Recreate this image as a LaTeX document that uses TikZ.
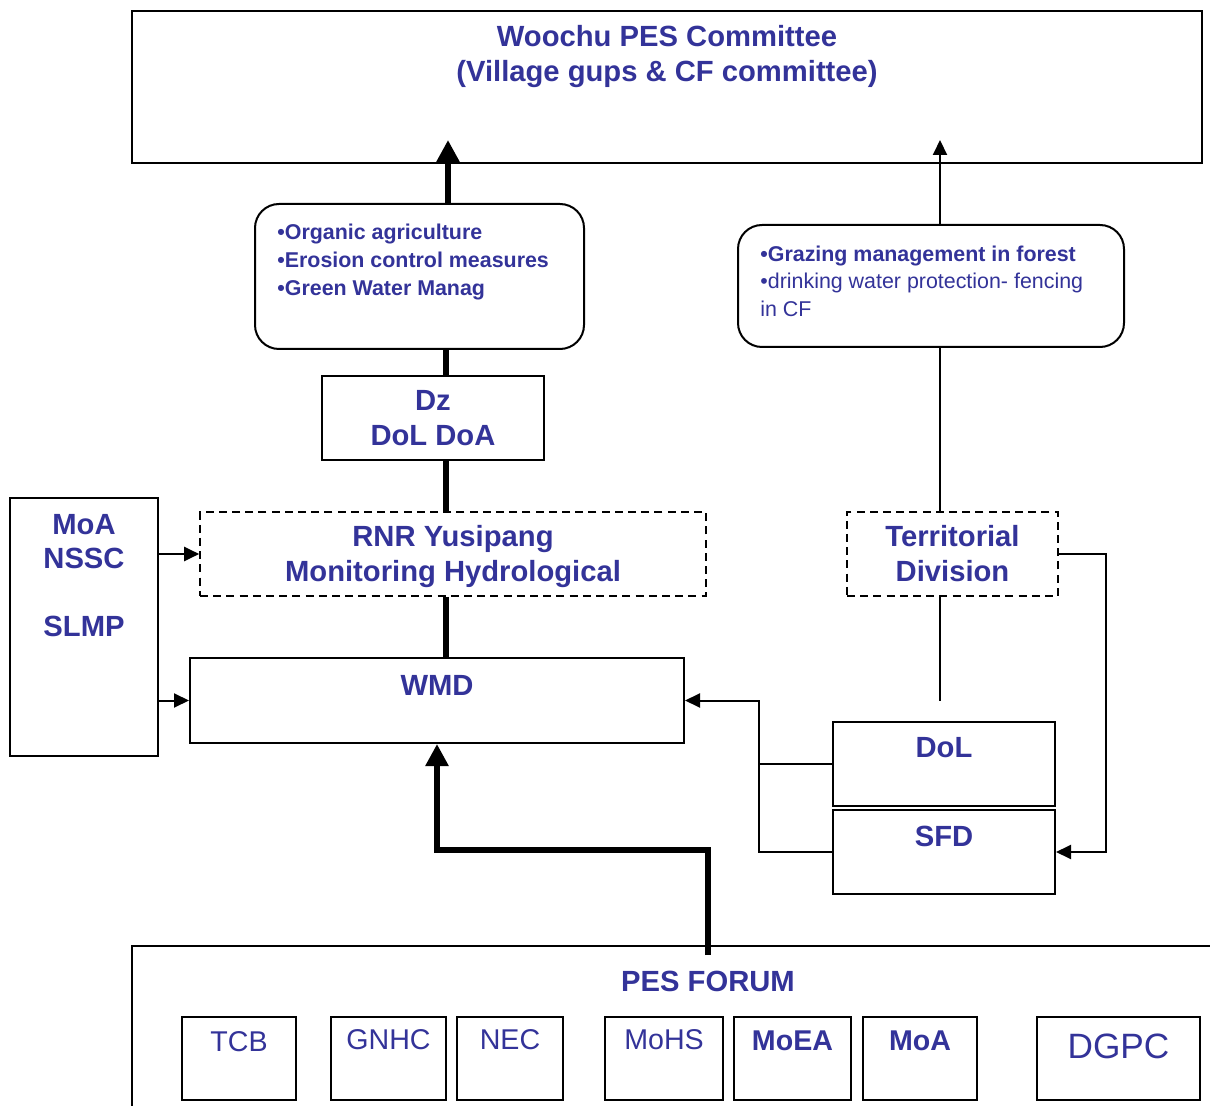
\documentclass[tikz,border=0pt]{standalone}
\usepackage{fontspec}
\setmainfont{Liberation Sans}
\usepackage{tikz}
\usetikzlibrary{calc}
\usetikzlibrary{arrows.meta}
\usepackage{xcolor}
\definecolor{azul}{HTML}{333399}
\tikzset{
	caja/.style={draw,line width=1pt,inner sep=0pt},
	cajaredonda/.style={caja,rounded corners=12pt},
	cajapunteada/.style={draw,line width=0.8pt,dash pattern=on 4pt off 2.6pt,inner sep=0pt},
	titulo/.style={text=azul,font=\fontsize{14.6}{17.5}\selectfont\bfseries,align=center,inner sep=0pt},
	lista/.style={text=azul,font=\fontsize{10.7}{13.8}\selectfont,align=left,inner sep=0pt},
	sigla/.style={text=azul,font=\fontsize{14.3}{17}\selectfont,inner sep=0pt},
	flechagruesa/.style={line width=3pt,-{Triangle[length=11pt,width=11pt]}},
	lineagruesa/.style={line width=3pt},
	flecha/.style={line width=1pt,-{Triangle[length=7.5pt,width=7pt]}},
	linea/.style={line width=1pt}
}
\begin{document}
\begin{tikzpicture}[x=0.5pt,y=-0.5pt]
			\clip (0,0) rectangle (1210,1106);
			\fill[white] (0,0) rectangle (1210,1106);
			%comite
			\node[caja,minimum width=535pt,minimum height=76pt] (comite) at (667,87) {};
			\node[titulo] (comite-t) at (667,57) {Woochu PES Committee\\(Village gups \& CF committee)};
			%actividades
			\node[cajaredonda,minimum width=164.5pt,minimum height=72.5pt] (agri) at (419.5,276.5) {};
			\node[lista,anchor=west] (agri-t) at (277,262) {\textbf{•Organic agriculture}\\\textbf{•Erosion control measures}\\\textbf{•Green Water Manag}};
			\node[cajaredonda,minimum width=193pt,minimum height=61pt] (pastoreo) at (931,286) {};
			\node[lista,anchor=west] (pastoreo-t) at (760,281) {\textbf{•Grazing management in forest}\\•drinking water protection- fencing\\in CF};
			%instituciones
			\node[caja,minimum width=111pt,minimum height=42pt,titulo] (dz) at (433,418) {Dz\\DoL DoA};
			\node[cajapunteada,minimum width=253pt,minimum height=42pt] (rnr) at (453,554) {};
			\node[titulo] (rnr-t) at (453,557) {RNR Yusipang\\Monitoring Hydrological};
			\node[cajapunteada,minimum width=105.5pt,minimum height=42pt,titulo] (terr) at (952.5,554) {Territorial\\Division};
			\node[caja,minimum width=247pt,minimum height=42.5pt] (wmd) at (437,700.5) {};
			\node[titulo] (wmd-t) at (437,685) {WMD};
			\node[caja,minimum width=74pt,minimum height=129pt] (moa) at (84,627) {};
			\node[titulo,font=\fontsize{14.6}{17}\selectfont\bfseries] (moa-t) at (84,576) {MoA\\NSSC\\ \\SLMP};
			\node[caja,minimum width=111pt,minimum height=42pt] (dol) at (944,764) {};
			\node[titulo] (dol-t) at (944,748) {DoL};
			\node[caja,minimum width=111pt,minimum height=42pt] (sfd) at (944,852) {};
			\node[titulo] (sfd-t) at (944,836) {SFD};
			%foro
			\node[caja,minimum width=549pt,minimum height=92pt] (foro) at (681,1038) {};
			\node[titulo] (foro-t) at (708,981) {PES FORUM};
			\node[caja,minimum width=57pt,minimum height=41.5pt] (tcb) at (239,1058.5) {};
			\node[sigla] (tcb-t) at (239,1042) {TCB};
			\node[caja,minimum width=57.5pt,minimum height=41.5pt] (gnhc) at (388.5,1058.5) {};
			\node[sigla] (gnhc-t) at (388.5,1040) {GNHC};
			\node[caja,minimum width=53pt,minimum height=41.5pt] (nec) at (510,1058.5) {};
			\node[sigla] (nec-t) at (510,1040) {NEC};
			\node[caja,minimum width=59pt,minimum height=41.5pt] (mohs) at (664,1058.5) {};
			\node[sigla] (mohs-t) at (664,1040) {MoHS};
			\node[caja,minimum width=58.5pt,minimum height=41.5pt] (moea) at (792.5,1058.5) {};
			\node[sigla,font=\fontsize{14.3}{17}\selectfont\bfseries] (moea-t) at (792.5,1041) {MoEA};
			\node[caja,minimum width=57pt,minimum height=41.5pt] (moa2) at (920,1058.5) {};
			\node[sigla,font=\fontsize{14.3}{17}\selectfont\bfseries] (moa2-t) at (920,1041) {MoA};
			\node[caja,minimum width=81.5pt,minimum height=41.5pt] (dgpc) at (1118.5,1058.5) {};
			\node[sigla,font=\fontsize{17.6}{20}\selectfont] (dgpc-t) at (1118.5,1046) {DGPC};
			%puntos de apoyo
			\coordinate (ejeA) at (446,0);
			\coordinate (puntaA) at (448,140);
			\coordinate (ejeB) at (940,0);
			\coordinate (puntaB) at (940,140);
			\coordinate (finB) at (940,701);
			\coordinate (ladoD) at (1106,0);
			\coordinate (ladoI) at (759,0);
			\coordinate (foroA) at (708,955);
			\coordinate (codo) at (437,850);
			%conexiones
			\draw[flechagruesa] (puntaA |- agri.north) -- (puntaA);
			\draw[lineagruesa] (ejeA |- agri.south) -- (ejeA |- dz.north);
			\draw[lineagruesa] (ejeA |- dz.south) -- (ejeA |- rnr.north);
			\draw[lineagruesa] (ejeA |- rnr.south) -- (ejeA |- wmd.north);
			\draw[flecha] (puntaB |- pastoreo.north) -- (puntaB);
			\draw[linea] (ejeB |- pastoreo.south) -- (ejeB |- terr.north);
			\draw[linea] (ejeB |- terr.south) -- (finB);
			\draw[flecha] (moa.east |- rnr.west) -- (rnr.west);
			\draw[flecha] (moa.east |- wmd.west) -- (wmd.west);
			\draw[flecha] (terr.east) -- (terr.east -| ladoD) -- (ladoD |- sfd.east) -- (sfd.east);
			\draw[linea] (dol.west) -- (dol.west -| ladoI);
			\draw[flecha] (sfd.west) -- (sfd.west -| ladoI) -- (ladoI |- wmd.east) -- (wmd.east);
			\draw[flechagruesa] (foroA) |- (codo) -- (wmd.south);
		\end{tikzpicture}
\end{document}
